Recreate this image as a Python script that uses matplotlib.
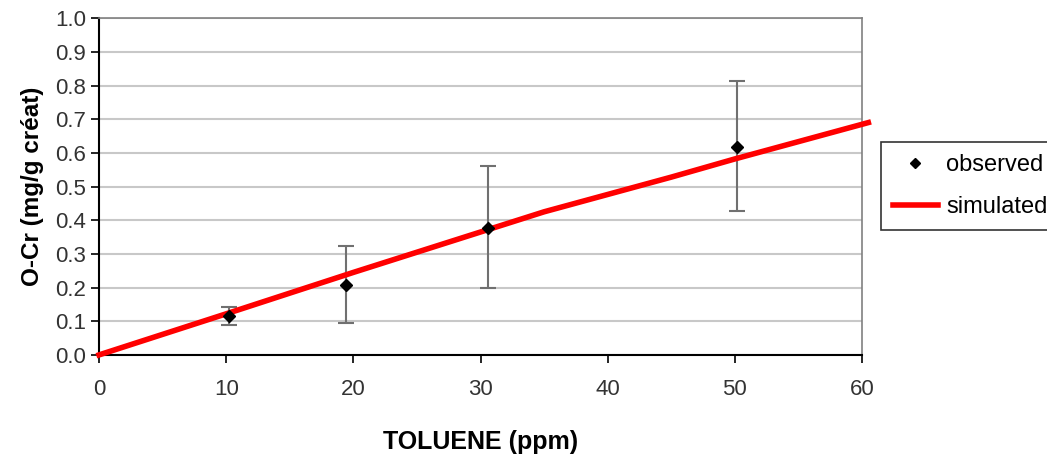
import numpy as np
import matplotlib
matplotlib.use("Agg")
import matplotlib.pyplot as plt

# observed data (mean +/- range)
obs_x = [10.2, 19.4, 30.6, 50.2]
obs_y = [0.117, 0.208, 0.378, 0.617]
obs_lo = [0.088, 0.096, 0.198, 0.428]
obs_hi = [0.143, 0.322, 0.560, 0.813]

# simulated curve
sim_x = [0, 10, 20, 30, 35, 45, 50, 60.5]
sim_y = [0.0, 0.122, 0.245, 0.365, 0.425, 0.528, 0.582, 0.690]

x_ticks = [0, 10, 20, 30, 40, 50, 60]
y_ticks = np.arange(0, 1.01, 0.1)

plt.rcParams['font.family'] = ['Liberation Sans', 'DejaVu Sans']

fig = plt.figure(figsize=(10.47, 4.55), dpi=100)
ax = fig.add_axes([0.0946, 0.22, 0.7287, 0.74])

ax.set_xlim(0, 60)
ax.set_ylim(0, 1.0)
ax.set_xticks(x_ticks)
ax.set_yticks(y_ticks)
ax.set_yticklabels([f"{v:.1f}" for v in y_ticks])
ax.yaxis.grid(True, color="#c8c8c8", linewidth=1.5)
ax.set_axisbelow(True)

for side in ["top", "right"]:
    ax.spines[side].set_color("#808080")
    ax.spines[side].set_linewidth(1.2)
for side in ["left", "bottom"]:
    ax.spines[side].set_color("black")
    ax.spines[side].set_linewidth(1.5)

ax.tick_params(direction="out", length=6, width=1.2, labelsize=16, colors="black")
ax.tick_params(axis="x", pad=11)
ax.tick_params(axis="both", labelcolor="#333333")

yerr = [np.array(obs_y) - np.array(obs_lo), np.array(obs_hi) - np.array(obs_y)]
ax.errorbar(obs_x, obs_y, yerr=yerr, fmt="none", ecolor="#707070",
            elinewidth=1.5, capsize=6, capthick=1.5, zorder=3)
obs_line, = ax.plot(obs_x, obs_y, "D", color="black", markersize=6,
                    linestyle="none", zorder=5, label="observed")
sim_line, = ax.plot(sim_x, sim_y, color="#ff0000", linewidth=4,
                    clip_on=False, zorder=4, label="simulated")

ax.set_xlabel("TOLUENE (ppm)", fontsize=18, fontweight="bold", labelpad=22)
ax.set_ylabel("O-Cr (mg/g créat)", fontsize=17.5, fontweight="bold", labelpad=8)

leg = fig.legend(handles=[obs_line, sim_line], loc="upper left",
                 bbox_to_anchor=(881 / 1047, 1 - 142 / 455),
                 fontsize=17, frameon=True, fancybox=False,
                 edgecolor="black", handlelength=1.9, handletextpad=0.35,
                 borderpad=0.5, labelspacing=0.85, borderaxespad=0,
                 markerscale=0.9)
leg.get_frame().set_linewidth(1.2)

fig.savefig("out.png", dpi=100)
